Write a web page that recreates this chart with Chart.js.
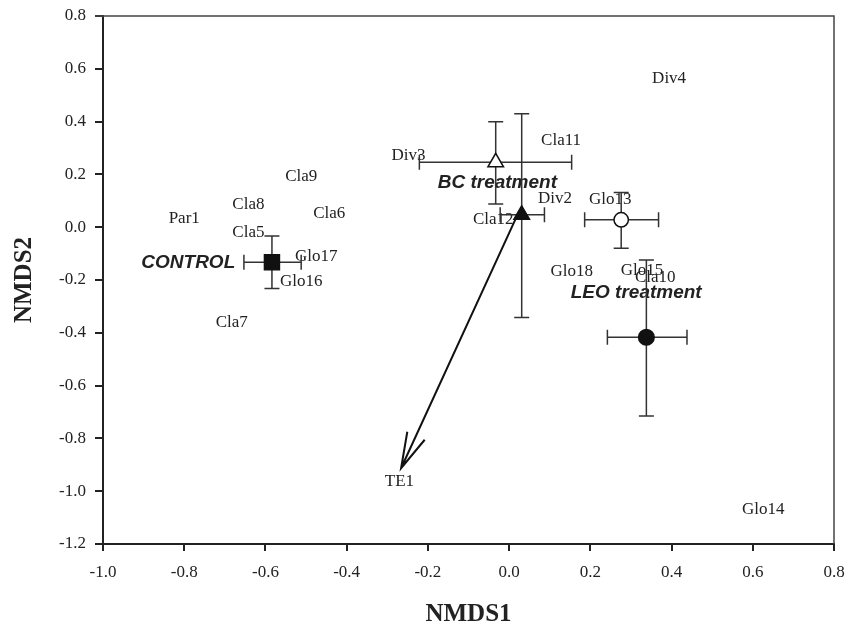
<!DOCTYPE html>
<html lang="en">
<head>
    <meta charset="UTF-8">
    <title>NMDS</title>
    <script src="https://cdn.jsdelivr.net/npm/chart.js"></script>
    <style>
        body { margin: 0; background: #fff; }
        #wrap { width: 856px; height: 625px; }
    </style>
</head>
<body>
    <div id="wrap"><canvas id="myChart" width="856" height="625"></canvas></div>

    <script>
        // group centroids (mean NMDS1, NMDS2) with error bar limits
        const groupNames = ['CONTROL', 'BC', 'BC_filled', 'LEO_open', 'LEO'];
        const groupX = [-0.584, -0.033, 0.031, 0.276, 0.338];
        const groupY = [-0.133, 0.246, 0.047, 0.028, -0.417];
        const errXLow = [-0.653, -0.221, -0.022, 0.186, 0.242];
        const errXHigh = [-0.512, 0.154, 0.087, 0.368, 0.438];
        const errYLow = [-0.232, 0.088, -0.342, -0.080, -0.715];
        const errYHigh = [-0.033, 0.399, 0.430, 0.131, -0.124];

        // species / variable labels
        const speciesNames = ['Par1', 'Cla8', 'Cla9', 'Cla6', 'Cla5', 'Glo17', 'Glo16', 'Cla7',
            'Div3', 'Div4', 'Cla11', 'Div2', 'Glo13', 'Cla12', 'Glo18', 'Glo15', 'Cla10', 'TE1', 'Glo14'];
        const speciesX = [-0.800, -0.642, -0.512, -0.443, -0.642, -0.475, -0.512, -0.683,
            -0.248, 0.394, 0.128, 0.113, 0.249, -0.039, 0.154, 0.327, 0.360, -0.270, 0.626];
        const speciesY = [0.031, 0.084, 0.192, 0.053, -0.019, -0.111, -0.206, -0.361,
            0.271, 0.564, 0.327, 0.107, 0.103, 0.030, -0.168, -0.164, -0.189, -0.963, -1.071];

        // treatment labels
        const treatNames = ['CONTROL', 'BC treatment', 'LEO treatment'];
        const treatX = [-0.790, -0.029, 0.313];
        const treatY = [-0.136, 0.167, -0.250];

        // environmental vector
        const arrowFrom = [0.020, 0.045];
        const arrowTo = [-0.266, -0.913];

        const xTicks = [-1.0, -0.8, -0.6, -0.4, -0.2, 0.0, 0.2, 0.4, 0.6, 0.8];
        const yTicks = [-1.2, -1.0, -0.8, -0.6, -0.4, -0.2, 0.0, 0.2, 0.4, 0.6, 0.8];

        const ink = '#222';

        const overlay = {
            id: 'overlay',
            beforeDatasetsDraw(chart) {
                const ctx = chart.ctx;
                const xs = chart.scales.x, ys = chart.scales.y;
                const px = v => xs.getPixelForValue(v);
                const py = v => ys.getPixelForValue(v);
                const area = chart.chartArea;
                ctx.save();

                // top and right frame lines
                ctx.strokeStyle = '#444';
                ctx.lineWidth = 1.5;
                ctx.beginPath();
                ctx.moveTo(area.left - 8, area.top);
                ctx.lineTo(area.right, area.top);
                ctx.lineTo(area.right, area.bottom);
                ctx.stroke();

                // species labels
                ctx.fillStyle = ink;
                ctx.font = '17px "Liberation Serif", serif';
                ctx.textAlign = 'center';
                ctx.textBaseline = 'middle';
                speciesNames.forEach((n, i) => ctx.fillText(n, px(speciesX[i]), py(speciesY[i])));

                // treatment labels
                ctx.font = 'italic bold 19px "Liberation Sans", sans-serif';
                treatNames.forEach((n, i) => ctx.fillText(n, px(treatX[i]), py(treatY[i])));

                // error bars
                ctx.strokeStyle = '#333';
                ctx.lineWidth = 1.5;
                const cap = 7.5;
                groupX.forEach((gx, i) => {
                    const cx = px(gx), cy = py(groupY[i]);
                    const x1 = px(errXLow[i]), x2 = px(errXHigh[i]);
                    const y1 = py(errYLow[i]), y2 = py(errYHigh[i]);
                    ctx.beginPath();
                    ctx.moveTo(x1, cy); ctx.lineTo(x2, cy);
                    ctx.moveTo(x1, cy - cap); ctx.lineTo(x1, cy + cap);
                    ctx.moveTo(x2, cy - cap); ctx.lineTo(x2, cy + cap);
                    ctx.moveTo(cx, y1); ctx.lineTo(cx, y2);
                    ctx.moveTo(cx - cap, y1); ctx.lineTo(cx + cap, y1);
                    ctx.moveTo(cx - cap, y2); ctx.lineTo(cx + cap, y2);
                    ctx.stroke();
                });

                // arrow
                const ax = px(arrowFrom[0]), ay = py(arrowFrom[1]);
                const bx = px(arrowTo[0]), by = py(arrowTo[1]);
                const ang = Math.atan2(ay - by, ax - bx);
                const head = 37, spread = Math.PI / 12;
                ctx.strokeStyle = '#111';
                ctx.lineWidth = 2;
                ctx.beginPath();
                ctx.moveTo(ax, ay); ctx.lineTo(bx, by);
                ctx.moveTo(bx + head * Math.cos(ang - spread), by + head * Math.sin(ang - spread));
                ctx.lineTo(bx, by);
                ctx.lineTo(bx + head * Math.cos(ang + spread), by + head * Math.sin(ang + spread));
                ctx.stroke();

                ctx.restore();
            }
        };

        const styles = [
            { pointStyle: 'rect', radius: 10.6, bg: '#111' },
            { pointStyle: 'triangle', radius: 9, bg: '#fff' },
            { pointStyle: 'triangle', radius: 9, bg: '#111' },
            { pointStyle: 'circle', radius: 7.2, bg: '#fff' },
            { pointStyle: 'circle', radius: 7.8, bg: '#111' }
        ];

        const datasets = groupNames.map((n, i) => ({
            label: n,
            data: [{ x: groupX[i], y: groupY[i] }],
            pointStyle: styles[i].pointStyle,
            pointRadius: styles[i].radius,
            pointBackgroundColor: styles[i].bg,
            pointBorderColor: '#111',
            pointBorderWidth: 1.5
        }));

        const ctx = document.getElementById('myChart').getContext('2d');
        const myChart = new Chart(ctx, {
            type: 'scatter',
            data: { datasets: datasets },
            options: {
                responsive: false,
                animation: false,
                layout: { padding: { top: 16, right: 22, left: 0, bottom: 0 } },
                plugins: { legend: { display: false }, tooltip: { enabled: false } },
                scales: {
                    x: {
                        type: 'linear',
                        min: -1.0, max: 0.8,
                        afterBuildTicks: s => { s.ticks = xTicks.map(v => ({ value: v })); },
                        afterFit: s => { s.height = 81; s.paddingLeft = 0; s.paddingRight = 0; },
                        border: { display: true, color: ink, width: 2 },
                        grid: { drawOnChartArea: false, drawTicks: true, tickLength: 7, color: ink, lineWidth: 2 },
                        ticks: {
                            color: ink, padding: 11,
                            font: { family: 'Liberation Serif', size: 17 },
                            callback: v => v.toFixed(1)
                        },
                        title: {
                            display: true, text: 'NMDS1', color: ink,
                            font: { family: 'Liberation Serif', size: 25, weight: 'bold', lineHeight: 0.8 },
                            padding: 0
                        }
                    },
                    y: {
                        type: 'linear',
                        min: -1.2, max: 0.8,
                        afterBuildTicks: s => { s.ticks = yTicks.map(v => ({ value: v })); },
                        afterFit: s => { s.width = 103; s.paddingTop = 0; s.paddingBottom = 0; },
                        border: { display: true, color: ink, width: 2 },
                        grid: { drawOnChartArea: false, drawTicks: true, tickLength: 8, color: ink, lineWidth: 2 },
                        ticks: {
                            color: ink, padding: 9,
                            font: { family: 'Liberation Serif', size: 17 },
                            callback: v => v.toFixed(1)
                        },
                        title: {
                            display: true, text: 'NMDS2', color: ink,
                            font: { family: 'Liberation Serif', size: 25, weight: 'bold', lineHeight: 1.2 },
                            padding: { top: 10, bottom: 0 }
                        }
                    }
                }
            },
            plugins: [overlay]
        });
    </script>
</body>
</html>
